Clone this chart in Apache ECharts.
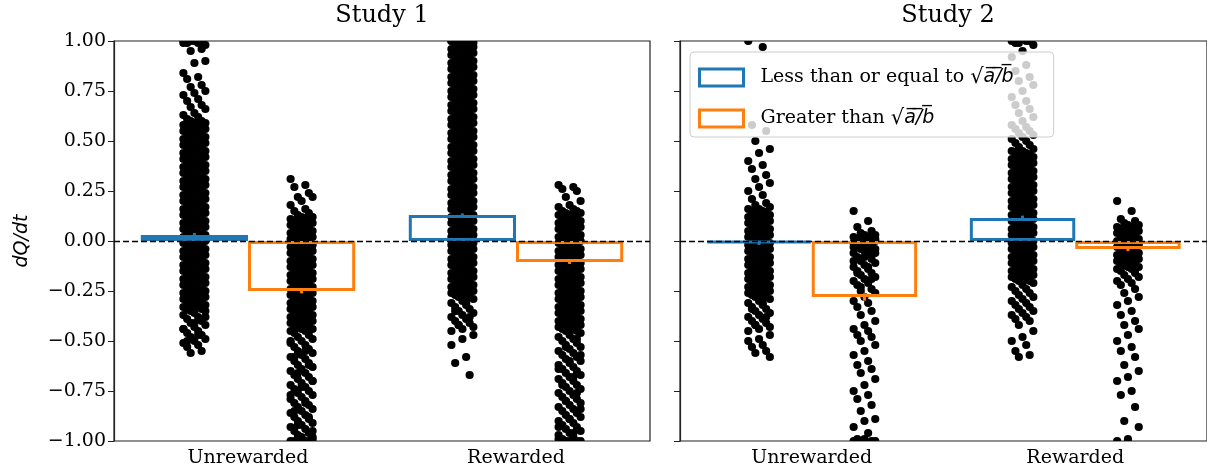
<!DOCTYPE html>
<html>
<head>
<meta charset="utf-8">
<script src="https://cdn.jsdelivr.net/npm/echarts@6/dist/echarts.min.js"></script>
<style>html,body{margin:0;background:#fff}#chart{width:1207px;height:472px}</style>
</head>
<body>
<div id="chart"></div>
<script>
const studies = ['Study 1', 'Study 2'];
const categories = ['Unrewarded', 'Rewarded'];
const groupLabels = {
  le: 'Less than or equal to ',
  gt: 'Greater than ',
};

// mean dQ/dt per bar, [Unrewarded, Rewarded]
const meanLe1 = [0.03, 0.13];
const meanGt1 = [-0.25, -0.105];
const meanLe2 = [-0.01, 0.115];
const meanGt2 = [-0.28, -0.04];
// half length of the error bars
const errLe1 = [0.01, 0.008];
const errGt1 = [0.012, 0.01];
const errLe2 = [0.01, 0.012];
const errGt2 = [0.018, 0.01];

// strip-plot jitter, in category widths
const jitter = [-0.041, 0.014, -0.027, 0.027, -0.014, 0.041, 0];

// individual points, dQ/dt x 100 (dense parts read as two points per level)
const s1UnrewLe = [100,99,100,99,100,98,100,99,100,99,96,95,90,89,84,82,81,78,77,75,74,73,71,70,68,67,66,64,63,62,61,
  60,60,59,59,58,58,57,57,56,56,55,55,54,54,53,53,52,52,51,51,50,50,49,49,48,48,47,47,46,46,45,45,44,44,43,43,42,42,41,41,
  40,40,39,39,38,38,37,37,36,36,35,35,34,34,33,33,32,32,31,31,30,30,29,29,28,28,27,27,26,26,25,25,24,24,23,23,22,22,21,21,
  20,20,19,19,18,18,17,17,16,16,15,15,14,14,13,13,12,12,11,11,10,10,9,9,8,8,7,7,6,6,5,5,4,4,3,3,2,2,1,1,0,0,
  -1,-1,-2,-2,-3,-3,-4,-4,-5,-5,-6,-6,-7,-7,-8,-8,-9,-9,-10,-10,-11,-11,-12,-12,-13,-13,-14,-14,-15,-15,-16,-16,-17,-17,
  -18,-18,-19,-19,-20,-20,-21,-21,-22,-22,-23,-23,-24,-24,-25,-25,-26,-26,-27,-27,-28,-28,-29,-29,-30,-30,-31,-31,-32,-32,-33,-33,-34,-34,-35,-35,
  -36,-37,-38,-39,-40,-41,-42,-43,-44,-45,-46,-47,-48,-49,-50,-51,-52,-53,-55,-56,-38,-41,-44,-47,-50];
const s1UnrewGt = [31,28,27,24,22,22,20,18,16,15,14,13,
  12,12,11,11,10,10,9,9,8,8,7,7,6,6,5,5,4,4,3,3,2,2,1,1,0,0,-1,-1,-2,-2,-3,-3,-4,-4,-5,-5,-6,-6,-7,-7,-8,-8,-9,-9,
  -10,-10,-11,-11,-12,-12,-13,-13,-14,-14,-15,-15,-16,-16,-17,-17,-18,-18,-19,-19,-20,-20,-21,-21,-22,-22,-23,-23,-24,-24,
  -25,-25,-26,-26,-27,-27,-28,-28,-29,-29,-30,-30,-31,-31,-32,-32,-33,-33,-34,-34,-35,-35,-36,-36,-37,-37,-38,-38,-39,-39,
  -40,-40,-41,-41,-42,-42,-43,-43,-44,-44,-45,-45,
  -46,-47,-48,-49,-50,-51,-52,-53,-54,-55,-56,-57,-58,-59,-60,-61,-62,-63,-64,-65,-66,-67,-68,-69,-70,-71,-72,-73,-74,-75,
  -76,-77,-78,-79,-80,-81,-82,-83,-84,-85,-86,-87,-88,-89,-90,-91,-92,-93,-94,-95,-96,-97,-98,-99,
  -50,-55,-58,-62,-66,-70,-73,-77,-81,-85,-88,-92,-95,-100,-100,-100,-100,-100,-100,-99,-98];
const s1RewLe = [100,100,99,100,100,99,100,100,
  99,99,98,98,97,97,96,96,95,95,94,94,93,93,92,92,91,91,90,90,89,89,88,88,87,87,86,86,85,85,84,84,83,83,82,82,81,81,80,80,
  79,79,78,78,77,77,76,76,75,75,74,74,73,73,72,72,71,71,70,70,69,69,68,68,67,67,66,66,65,65,64,64,63,63,62,62,61,61,60,60,
  59,59,58,58,57,57,56,56,55,55,54,54,53,53,52,52,51,51,50,50,49,49,48,48,47,47,46,46,45,45,44,44,43,43,42,42,41,41,40,40,
  39,39,38,38,37,37,36,36,35,35,34,34,33,33,32,32,31,31,30,30,29,29,28,28,27,27,26,26,25,25,24,24,23,23,22,22,21,21,20,20,
  19,19,18,18,17,17,16,16,15,15,14,14,13,13,12,12,11,11,10,10,9,9,8,8,7,7,6,6,5,5,4,4,3,3,2,2,1,1,0,0,
  -1,-1,-2,-2,-3,-3,-4,-4,-5,-5,-6,-6,-7,-7,-8,-8,-9,-9,-10,-10,-11,-11,-12,-12,-13,-13,-14,-14,-15,-15,-16,-16,-17,-17,
  -18,-18,-19,-19,-20,-20,-21,-21,-22,-22,-23,-23,-24,-24,-25,-25,-26,-26,-27,-27,-28,-28,
  -29,-30,-31,-32,-33,-34,-35,-36,-37,-38,-39,-40,-41,-42,-43,-44,-45,-31,-35,-38,-42,-47,-49,-52,-58,-61,-67];
const s1RewGt = [28,27,26,25,22,20,18,17,16,
  15,15,14,14,13,13,12,12,11,11,10,10,9,9,8,8,7,7,6,6,5,5,4,4,3,3,2,2,1,1,0,0,-1,-1,-2,-2,-3,-3,-4,-4,-5,-5,-6,-6,-7,-7,
  -8,-8,-9,-9,-10,-10,-11,-11,-12,-12,-13,-13,-14,-14,-15,-15,-16,-16,-17,-17,-18,-18,-19,-19,-20,-20,-21,-21,-22,-22,
  -23,-23,-24,-24,-25,-25,-26,-26,-27,-27,-28,-28,-29,-29,-30,-30,-31,-31,-32,-32,-33,-33,-34,-34,-35,-35,-36,-36,-37,-37,
  -38,-38,-39,-39,-40,-40,-41,-41,-42,-42,-43,-43,-44,-44,-45,-45,
  -46,-47,-48,-49,-50,-51,-52,-53,-54,-55,-56,-57,-58,-59,-60,-61,-62,-63,-64,-65,-66,-67,-68,-69,-70,-71,-72,-73,-74,-75,
  -76,-77,-78,-79,-80,-81,-82,-83,-84,-85,-86,-87,-88,-89,-90,-91,-92,-93,-94,-95,-96,-97,-98,-99,
  -49,-53,-57,-60,-64,-68,-72,-76,-80,-84,-89,-93,-96,-100,-100,-100,-100,-100,-99];
const s2UnrewLe = [100,97,58,55,50,46,44,40,38,36,33,31,29,27,25,23,21,19,18,17,
  16,16,15,15,14,14,13,13,12,12,11,11,10,10,9,9,8,8,7,7,6,6,5,5,4,4,3,3,2,2,1,1,0,0,
  -1,-1,-2,-2,-3,-3,-4,-4,-5,-5,-6,-6,-7,-7,-8,-8,-9,-9,-10,-10,-11,-11,-12,-12,-13,-13,-14,-14,-15,-15,
  -16,-16,-17,-17,-18,-18,-19,-19,-20,-20,-21,-21,-22,-22,-23,-23,-24,-24,-25,-25,-26,-26,-27,-27,-28,-28,
  -29,-30,-31,-32,-33,-34,-35,-36,-37,-38,-39,-40,-41,-42,-43,-44,-45,-31,-34,-38,-42,-47,-49,-50,-52,-53,-55,-56,-58];
const s2UnrewGt = [15,10,7,5,4,3,3,2,2,1,1,0,0,-1,-1,-2,-2,-3,-3,-4,-5,-6,-7,-8,-9,-10,-11,-12,-13,-14,-15,-16,-17,-18,-19,-20,-21,-22,-24,-25,-26,-28,
  -30,-31,-33,-35,-37,-40,-42,-44,-45,-47,-48,-50,-52,-55,-57,-60,-62,-64,-66,-69,-72,-75,-77,-79,-82,-85,-89,-90,-93,-96,-99,-100,-100,-100,-99,-100,
  2,0,-2,-4,-6,-8,-10,-13,-16,-19,-23,1,-1,-3,-5];
const s2RewLe = [100,100,99,100,99,98,95,92,88,85,82,80,78,75,72,70,68,66,64,62,60,58,57,56,55,54,
  53,52,51,50,49,48,47,46,
  45,45,44,44,43,43,42,42,41,41,40,40,39,39,38,38,37,37,36,36,35,35,34,34,33,33,32,32,31,31,30,30,29,29,28,28,27,27,26,26,
  25,25,24,24,23,23,22,22,21,21,20,20,19,19,18,18,17,17,16,16,15,15,14,14,13,13,12,12,11,11,10,10,9,9,8,8,7,7,6,6,
  5,5,4,4,3,3,2,2,1,1,0,0,-1,-1,-2,-2,-3,-3,-4,-4,-5,-5,-6,-6,-7,-7,-8,-8,-9,-9,-10,-10,-11,-11,-12,-12,-13,-13,
  -14,-14,-15,-15,-16,-16,-17,-17,-18,-18,-19,-19,-20,-20,
  -21,-22,-23,-24,-25,-26,-27,-28,-29,-30,-31,-32,-33,-34,-35,-36,-37,-38,-39,-40,-42,-45,-48,-50,-52,-55,-57,-58];
const s2RewGt = [20,15,11,10,9,
  8,8,7,7,6,6,5,5,4,4,3,3,2,2,1,1,0,0,-1,-1,-2,-2,-3,-3,-4,-4,-5,-5,-6,-6,-7,-7,-8,-8,-9,-9,-10,-10,-11,-11,-12,-12,-13,-13,-14,-14,
  -15,-16,-17,-18,-19,-20,-21,-22,
  -24,-26,-28,-30,-32,-35,-37,-40,-42,-44,-47,-50,-53,-55,-58,-62,-65,-68,-70,-75,-77,-83,-90,-93,-99,-100];

const BLUE = '#1f77b4';
const ORANGE = '#ff7f0e';
const SERIF = 'DejaVu Serif';
const grids = [
  { left: 114, top: 41, width: 536, height: 400 },
  { left: 680, top: 41, width: 536, height: 400 },
];

const strip = (vals, center) => vals.map((v, i) => [center + jitter[i % jitter.length], v / 100]);

const perStudy = [
  { le: meanLe1, gt: meanGt1, errLe: errLe1, errGt: errGt1,
    pts: [[s1UnrewLe, -0.2], [s1UnrewGt, 0.2], [s1RewLe, 0.8], [s1RewGt, 1.2]] },
  { le: meanLe2, gt: meanGt2, errLe: errLe2, errGt: errGt2,
    pts: [[s2UnrewLe, -0.2], [s2UnrewGt, 0.2], [s2RewLe, 0.8], [s2RewGt, 1.2]] },
];

const xAxis = [];
const yAxis = [];
const series = [];
perStudy.forEach((st, s) => {
  xAxis.push({
    type: 'category', gridIndex: s, data: categories,
    axisLine: { show: false, onZero: false },
    axisTick: { alignWithLabel: true, length: 6, lineStyle: { color: '#222' } },
    axisLabel: { fontFamily: SERIF, fontSize: 19, color: '#000', margin: 8 },
  });
  xAxis.push({ type: 'value', gridIndex: s, min: -0.5, max: 1.5, show: false, axisLine: { onZero: false } });
  yAxis.push({
    type: 'value', gridIndex: s, min: -1, max: 1, interval: 0.25,
    name: s === 0 ? 'dQ/dt' : '', nameLocation: 'middle', nameGap: 82,
    nameTextStyle: { fontFamily: 'DejaVu Sans', fontStyle: 'italic', fontSize: 19, color: '#000' },
    splitLine: { show: false },
    axisLine: { show: true, onZero: false, lineStyle: { color: '#222', width: 1.2 } },
    axisTick: { length: 6, lineStyle: { color: '#222' } },
    axisLabel: {
      show: s === 0, fontFamily: SERIF, fontSize: 19, color: '#000', margin: 8,
      formatter: (v) => (v < 0 ? '\u2212' : '') + Math.abs(v).toFixed(2),
    },
  });

  const pts = [];
  st.pts.forEach(([vals, c]) => pts.push(...strip(vals, c)));
  series.push({
    type: 'custom', xAxisIndex: s * 2 + 1, yAxisIndex: s, z: 1, clip: true, silent: true,
    data: pts,
    renderItem: (params, api) => {
      const p = api.coord([api.value(0), api.value(1)]);
      return { type: 'circle', shape: { cx: p[0], cy: p[1], r: 4.1 }, style: { fill: '#000' } };
    },
  });

  [['le', BLUE], ['gt', ORANGE]].forEach(([key, col]) => {
    series.push({
      name: key, type: 'bar', xAxisIndex: s * 2, yAxisIndex: s, z: 2, silent: true,
      barGap: '0%', barCategoryGap: '20%',
      data: st[key],
      itemStyle: { color: 'rgba(0,0,0,0)', borderColor: col, borderWidth: 3 },
    });
  });

  const errs = [];
  categories.forEach((c, i) => {
    errs.push([i - 0.2, st.le[i] - st.errLe[i], st.le[i] + st.errLe[i], 0]);
    errs.push([i + 0.2, st.gt[i] - st.errGt[i], st.gt[i] + st.errGt[i], 1]);
  });
  series.push({
    type: 'custom', xAxisIndex: s * 2 + 1, yAxisIndex: s, z: 3, silent: true,
    data: errs,
    renderItem: (params, api) => {
      const a = api.coord([api.value(0), api.value(1)]);
      const b = api.coord([api.value(0), api.value(2)]);
      return {
        type: 'line', shape: { x1: a[0], y1: a[1], x2: b[0], y2: b[1] },
        style: { stroke: api.value(3) ? ORANGE : BLUE, lineWidth: 3 },
      };
    },
    markLine: {
      silent: true, symbol: 'none', label: { show: false }, animation: false,
      lineStyle: { color: '#000', type: [6, 3], width: 1.4 },
      data: [{ yAxis: 0 }],
    },
  });
});

const sqrtRich = '{r|\u221A}{m|a\u0305/\u0305b\u0305}';
const option = {
  animation: false,
  title: studies.map((t, i) => ({
    text: t, left: grids[i].left + grids[i].width / 2, top: 4, textAlign: 'center', padding: 0,
    textStyle: { fontFamily: SERIF, fontSize: 24, fontWeight: 'normal', color: '#000' },
  })),
  grid: grids.map((g) => ({ ...g, show: true, borderColor: '#222', borderWidth: 1.2, backgroundColor: 'transparent' })),
  legend: {
    orient: 'vertical', left: 690, top: 52, z: 10,
    padding: [15, 40, 8, 8], itemGap: 20, itemWidth: 44, itemHeight: 17,
    backgroundColor: 'rgba(255,255,255,0.8)', borderColor: '#cccccc', borderWidth: 1, borderRadius: 4,
    selectedMode: false,
    data: [
      { name: 'le', icon: 'rect', itemStyle: { color: 'rgba(0,0,0,0)', borderColor: BLUE, borderWidth: 3 } },
      { name: 'gt', icon: 'rect', itemStyle: { color: 'rgba(0,0,0,0)', borderColor: ORANGE, borderWidth: 3 } },
    ],
    formatter: (name) => '{g|}{t|' + groupLabels[name] + '}' + sqrtRich,
    textStyle: {
      rich: {
        g: { width: 12 },
        t: { fontFamily: SERIF, fontSize: 19, color: '#000', lineHeight: 24 },
        r: { fontFamily: 'DejaVu Sans', fontSize: 21, color: '#000', lineHeight: 24 },
        m: { fontFamily: 'DejaVu Sans', fontStyle: 'italic', fontSize: 19, color: '#000', lineHeight: 24 },
      },
    },
  },
  xAxis, yAxis, series,
};

const chart = echarts.init(document.getElementById('chart'), null, { renderer: 'canvas' });
chart.setOption(option);
</script>
</body>
</html>
